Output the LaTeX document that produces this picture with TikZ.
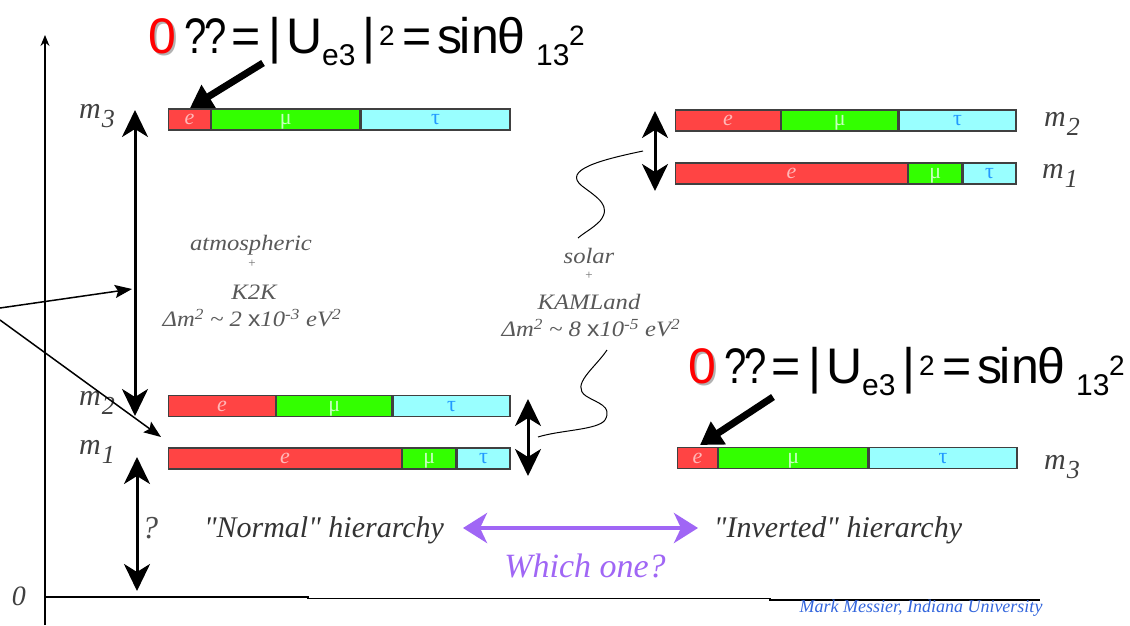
\documentclass[tikz,border=0pt]{standalone}
\usepackage{fontspec}
\setmainfont{Liberation Serif}
\newfontfamily\lsans{Liberation Sans}
\usetikzlibrary{arrows.meta}
\definecolor{ered}{HTML}{FF4444}
\definecolor{mgreen}{HTML}{33FF00}
\definecolor{tcyan}{HTML}{99FFFF}
\definecolor{etxt}{HTML}{FFB8B8}
\definecolor{mtxt}{HTML}{C8FFC0}
\definecolor{ttxt}{HTML}{2299FF}
\definecolor{purp}{HTML}{A066F5}
\definecolor{authblue}{HTML}{3366DD}
\newcommand\mlab[1]{\fontsize{30}{30}\selectfont\itshape m\hspace{1pt}\raisebox{-9pt}{\fontsize{26}{26}\selectfont #1}}
\newcommand\fp[2]{\makebox[#1pt][l]{#2}}
\newcommand\fsub[1]{\raisebox{-12pt}{\fontsize{30}{30}\selectfont #1}}
\newcommand\fsup[1]{\raisebox{8pt}{\fontsize{28}{28}\selectfont #1}}
\newcommand\uformula{\lsans\fontsize{50}{50}\selectfont
\fp{36}{\rlap{\kern2pt\raisebox{-2pt}{\color{black!30}0}}{\color{red}0}}%
\fp{20}{\scalebox{0.8}[1]{?}}\fp{27}{\scalebox{0.8}[1]{?}}\fp{37}{=}\fp{18}{|}\fp{36}{U}\fp{40}{\fsub{e3}}%
\fp{17}{|}\fp{23}{\fsup{2}}\fp{35}{=}\fp{22}{s}\fp{12}{i}\fp{26}{n}\fp{39}{θ}\fp{33}{\fsub{13}}\fp{17}{\fsup{2}}}
\newcommand\wide[1]{\scalebox{1.12}[1]{#1}}
\tikzset{
  seg/.style={draw=black!75, line width=1.2pt, minimum height=21pt, inner sep=0pt,
    anchor=west, text height=10pt, text depth=0pt, font=\fontsize{22}{22}\selectfont},
  esg/.style={seg, fill=ered, text=etxt, font=\fontsize{22}{22}\selectfont\itshape},
  msg/.style={seg, fill=mgreen, text=mtxt},
  tsg/.style={seg, fill=tcyan, text=ttxt},
  bigarr/.style={line width=3pt, {Stealth[length=27pt,width=26pt,inset=8pt]}-{Stealth[length=27pt,width=26pt,inset=8pt]}},
  thinarr/.style={line width=1.5pt, -{Stealth[length=17pt,width=13pt,inset=3pt]}},
  thickarr/.style={line width=7pt, -{Triangle[length=22pt,width=26pt]}},
  purparr/.style={purp, line width=4pt, {Stealth[length=24pt,width=30pt,inset=7pt]}-{Stealth[length=24pt,width=30pt,inset=7pt]}},
  desc/.style={text=black!65, font=\fontsize{22}{22}\selectfont\itshape, inner sep=0pt},
  plus/.style={text=black!55, font=\fontsize{13}{13}\selectfont, inner sep=0pt},
  mlabel/.style={text=black!75, inner sep=0pt},
  hier/.style={text=black!80, font=\fontsize{30}{30}\selectfont\itshape, inner sep=0pt},
  squig/.style={line width=1pt, black},
}
\begin{document}
\begin{tikzpicture}[x=1pt, y=-1pt]
\useasboundingbox[fill=white] (0,0) rectangle (1130,625);
% axes
\coordinate (yb) at (45,625);
\coordinate (yt) at (45,35);
\draw[line width=1.2pt, -{Stealth[length=11pt,width=9pt]}] (yb) -- (yt);
\coordinate (xa) at (45,597);
\coordinate (xb) at (308,597);
\coordinate (xc) at (308,598.5);
\coordinate (xd) at (770,598.5);
\coordinate (xe) at (770,600);
\coordinate (xf) at (1040,600);
\draw[line width=1.2pt] (xa) -- (xb) -- (xc) -- (xd) -- (xe) -- (xf);
\node[text=black!75, font=\fontsize{28}{28}\selectfont\itshape, inner sep=0pt] (zero) at (19,596) {0};

% left bars (normal)
\node[esg, minimum width=42pt] (L3e) at (168,119.5) {e};
\node[msg, minimum width=148pt] (L3m) at (L3e.east) {μ};
\node[tsg, minimum width=149pt] (L3t) at (L3m.east) {τ};
\node[esg, minimum width=107pt] (L2e) at (168,406) {e};
\node[msg, minimum width=115pt] (L2m) at (L2e.east) {μ};
\node[tsg, minimum width=117pt] (L2t) at (L2m.east) {τ};
\node[esg, minimum width=233pt] (L1e) at (168,458.5) {e};
\node[msg, minimum width=53pt] (L1m) at (L1e.east) {μ};
\node[tsg, minimum width=53pt] (L1t) at (L1m.east) {τ};
% right bars (inverted)
\node[esg, minimum width=105pt] (R2e) at (675,120.5) {e};
\node[msg, minimum width=116pt] (R2m) at (R2e.east) {μ};
\node[tsg, minimum width=117pt] (R2t) at (R2m.east) {τ};
\node[esg, minimum width=232pt] (R1e) at (675,173.5) {e};
\node[msg, minimum width=53pt] (R1m) at (R1e.east) {μ};
\node[tsg, minimum width=53pt] (R1t) at (R1m.east) {τ};
\node[esg, minimum width=40pt] (R3e) at (677,458) {e};
\node[msg, minimum width=149pt] (R3m) at (R3e.east) {μ};
\node[tsg, minimum width=148pt] (R3t) at (R3m.east) {τ};

% mass labels
\node[mlabel] (lm3) at (97,116) {\mlab{3}};
\node[mlabel] (lm2) at (97,403) {\mlab{2}};
\node[mlabel] (lm1) at (97,452) {\mlab{1}};
\node[mlabel] (rm2) at (1062,124) {\mlab{2}};
\node[mlabel] (rm1) at (1060,176) {\mlab{1}};
\node[mlabel] (rm3) at (1062,467) {\mlab{3}};

% double arrows
\coordinate (atmT) at (135,110);
\coordinate (atmB) at (135,416);
\draw[bigarr] (atmT) -- (atmB);
\coordinate (qT) at (137,457);
\coordinate (qB) at (137,591);
\draw[bigarr] (qT) -- (qB);
\node[text=black!70, font=\fontsize{32}{32}\selectfont\itshape, inner sep=0pt] (qm) at (150,528) {?};
\coordinate (rsT) at (655,111);
\coordinate (rsB) at (655,191);
\draw[bigarr] (rsT) -- (rsB);
\coordinate (lsT) at (528,399);
\coordinate (lsB) at (528,476);
\draw[bigarr] (lsT) -- (lsB);

% incoming thin arrows
\coordinate (in1) at (0,308);
\coordinate (in2) at (0,320);
\coordinate (tip1) at (132,289);
\coordinate (tip2) at (161,437);
\draw[thinarr] (in1) -- (tip1);
\draw[thinarr] (in2) -- (tip2);

% descriptions
\node[desc] (atm) at (251,245) {\wide{atmospheric}};
\node[plus] (atmp) at (252,264) {+};
\node[desc] (k2k) at (254,292) {\wide{K2K}};
\node[desc] (atmdm) at (252,318) {\wide{Δm\textsuperscript{2} \textasciitilde{} 2 {\upshape\lsans x}10\textsuperscript{-3} eV\textsuperscript{2}}};
\node[desc] (sol) at (589,256) {\wide{solar}};
\node[plus] (solp) at (589,276) {+};
\node[desc] (kam) at (589,302) {\wide{KAMLand}};
\node[desc] (soldm) at (591,328) {\wide{Δm\textsuperscript{2} \textasciitilde{} 8 {\upshape\lsans x}10\textsuperscript{-5} eV\textsuperscript{2}}};

% squiggles
\coordinate (sqA1) at (643,151);
\coordinate (sqA2) at (578,238);
\draw[squig] (sqA1) .. controls (600,160) and (562,170) .. (582,186)
  .. controls (598,198) and (612,206) .. (600,221) .. controls (592,229) and (585,232) .. (sqA2);
\coordinate (sqB1) at (607,350);
\coordinate (sqB2) at (538,437);
\draw[squig] (sqB1) .. controls (595,368) and (570,385) .. (586,396)
  .. controls (597,403) and (613,406) .. (605,420) .. controls (598,430) and (560,430) .. (sqB2);

% formulas
\node[anchor=base west, inner sep=0pt] (f1) at (148,53) {\uformula};
\node[anchor=base west, inner sep=0pt] (f2) at (688,383) {\uformula};
\coordinate (f1s) at (263,63);
\coordinate (f1t) at (190,108);
\draw[thickarr] (f1s) -- (f1t);
\coordinate (f2s) at (773,397);
\coordinate (f2t) at (700,445);
\draw[thickarr] (f2s) -- (f2t);

% bottom
\node[hier] (normal) at (324,530) {\textquotedbl Normal\textquotedbl{} hierarchy};
\node[hier] (inverted) at (838,530) {\textquotedbl Inverted\textquotedbl{} hierarchy};
\coordinate (pL) at (463,528);
\coordinate (pR) at (698,528);
\draw[purparr] (pL) -- (pR);
\node[text=purp, font=\fontsize{34}{34}\selectfont\itshape, inner sep=0pt] (which) at (585,566) {Which one?};
\node[text=authblue, font=\fontsize{18}{18}\selectfont\itshape, inner sep=0pt] (auth) at (921,608) {Mark Messier, Indiana University};
\end{tikzpicture}
\end{document}
